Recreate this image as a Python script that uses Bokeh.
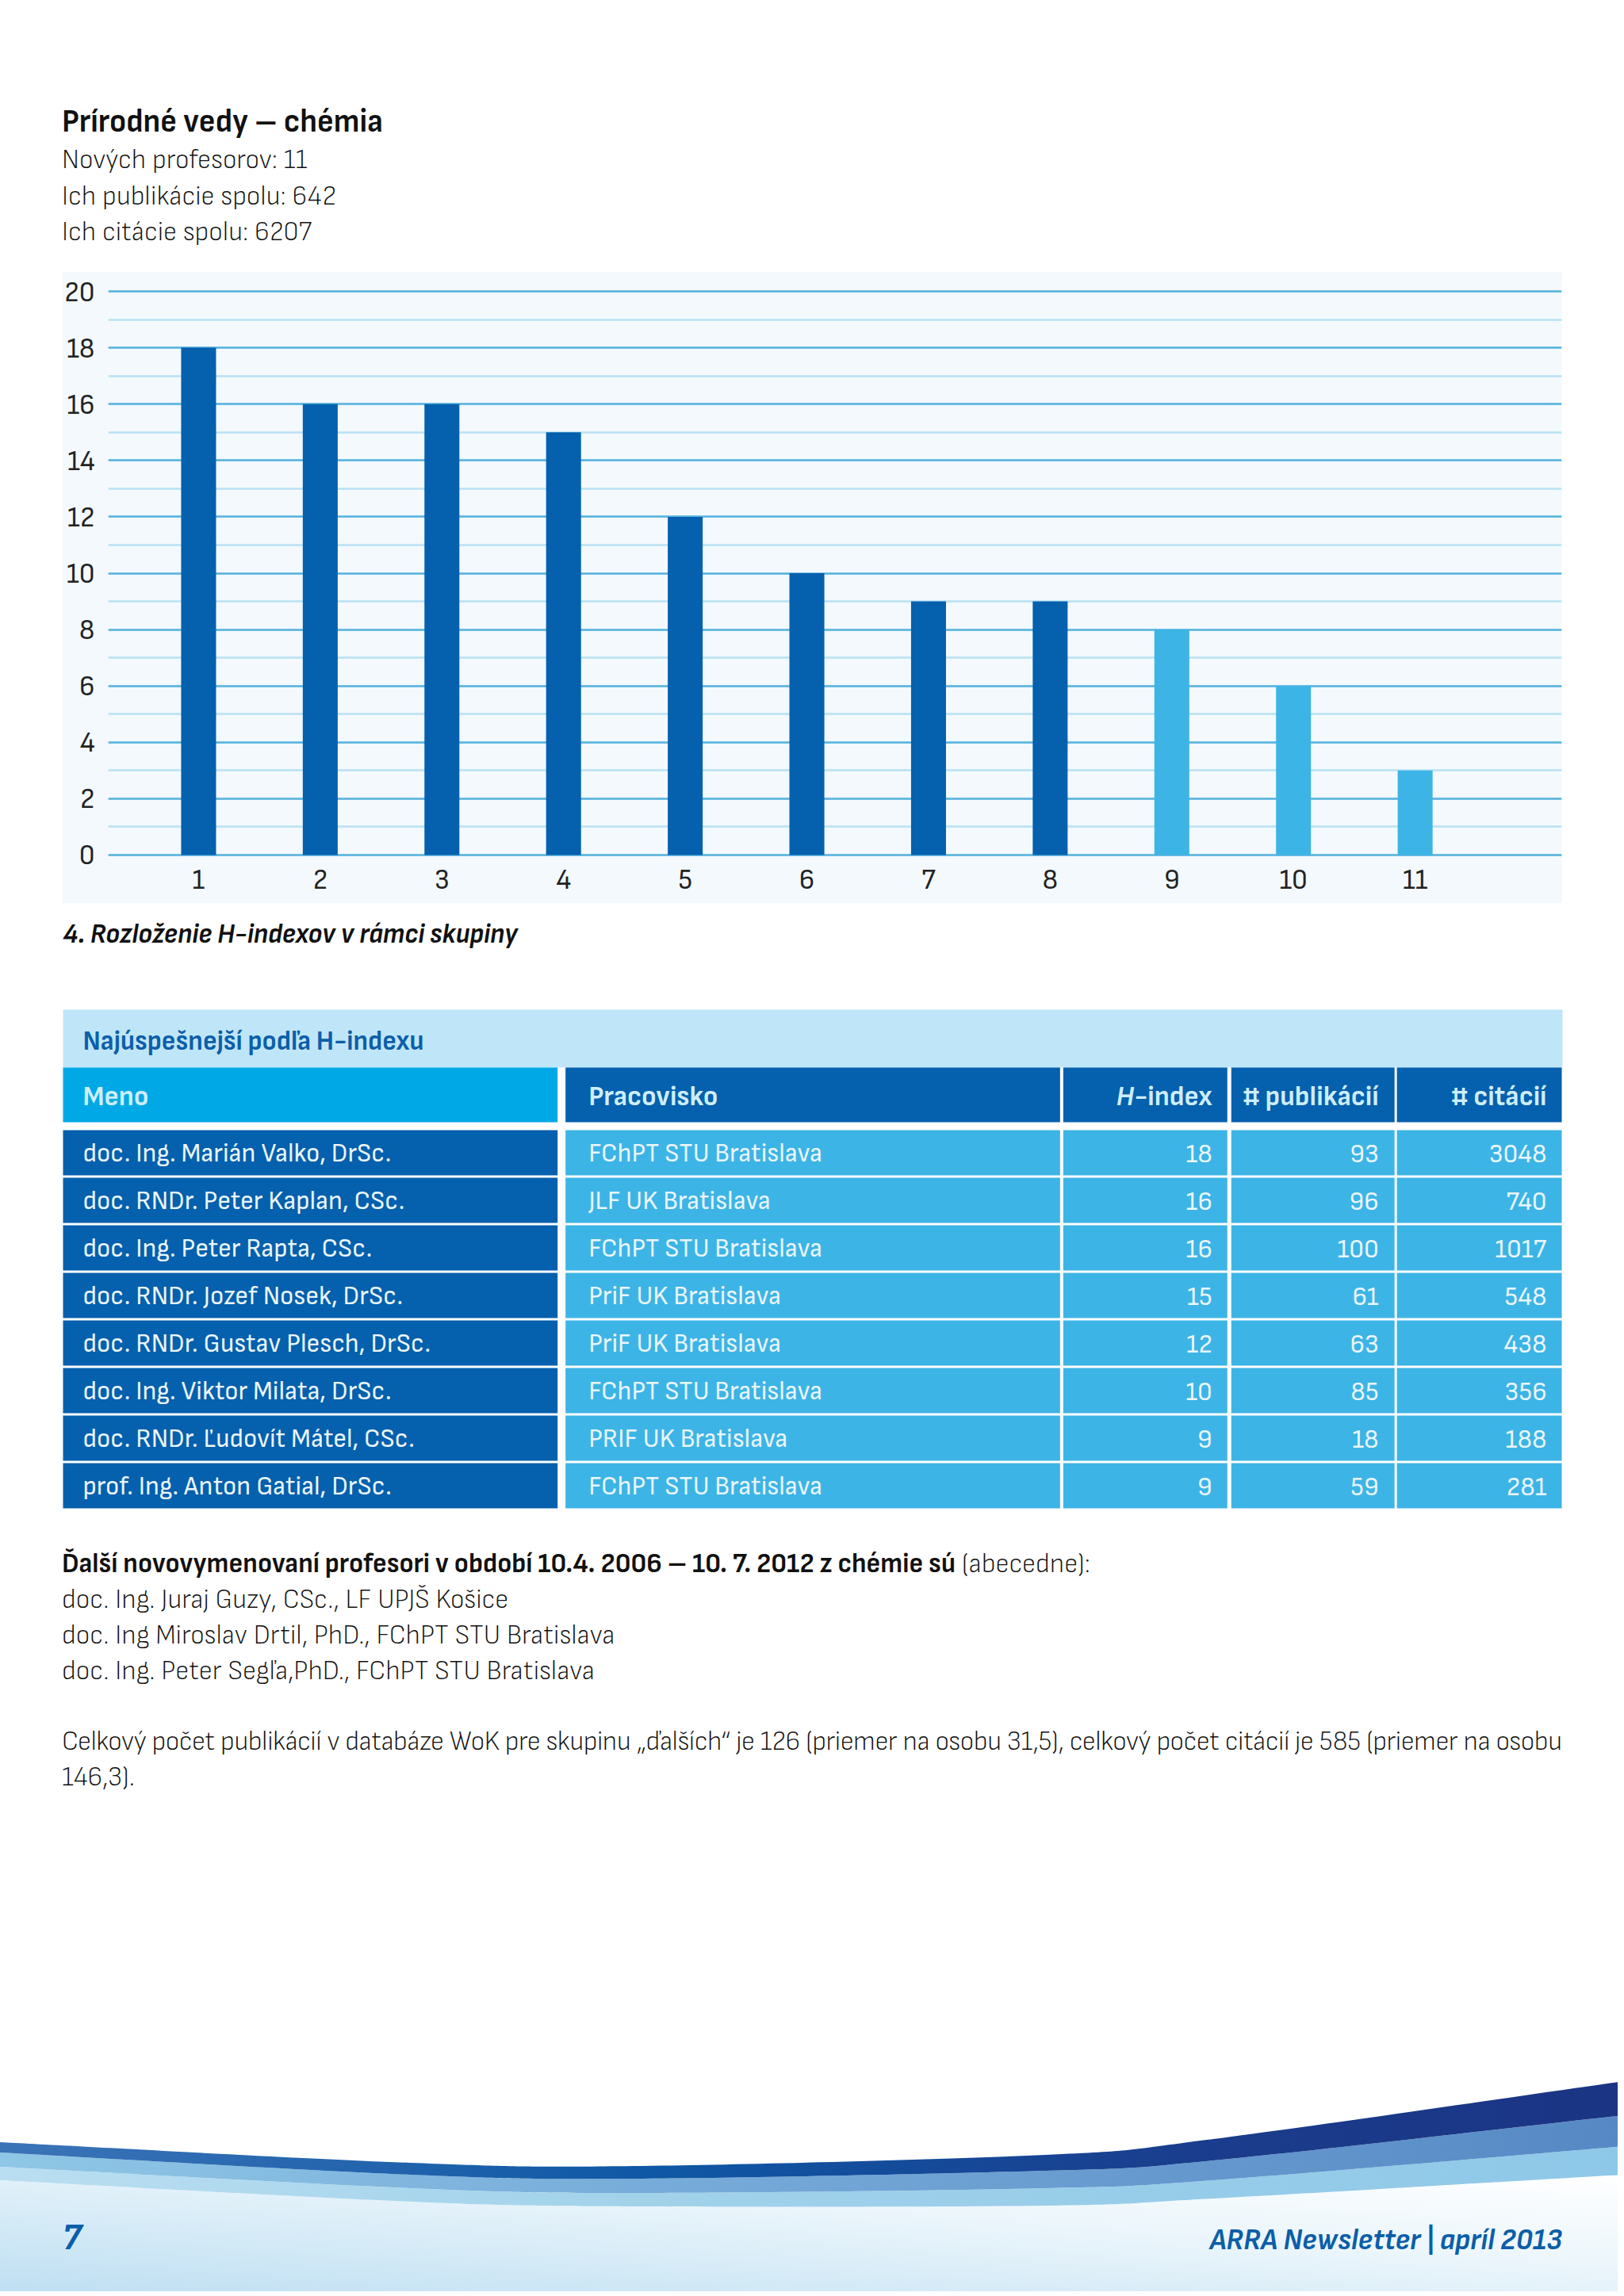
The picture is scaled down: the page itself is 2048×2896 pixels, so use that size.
from html import escape
from bokeh.plotting import figure
from bokeh.models import Range1d, SingleIntervalTicker, FixedTicker, Div
from bokeh.layouts import column
from bokeh.core.properties import value
from bokeh.embed import file_html
from bokeh.resources import INLINE

# ---------------- data ----------------
page_title = "Prírodné vedy – chémia"
summary_lines = ["Nových profesorov: 11", "Ich publikácie spolu: 642", "Ich citácie spolu: 6207"]

ranks = [1, 2, 3, 4, 5, 6, 7, 8, 9, 10, 11]
hindex = [18, 16, 16, 15, 12, 10, 9, 9, 8, 6, 3]
caption = "4. Rozloženie H-indexov v rámci skupiny"

table_title = "Najúspešnejší podľa H-indexu"
col_headers = ["Meno", "Pracovisko", "H-index", "# publikácií", "# citácií"]
names = ["doc. Ing. Marián Valko, DrSc.", "doc. RNDr. Peter Kaplan, CSc.", "doc. Ing. Peter Rapta, CSc.",
         "doc. RNDr. Jozef Nosek, DrSc.", "doc. RNDr. Gustav Plesch, DrSc.", "doc. Ing. Viktor Milata, DrSc.",
         "doc. RNDr. Ľudovít Mátel, CSc.", "prof. Ing. Anton Gatial, DrSc."]
workplaces = ["FChPT STU Bratislava", "JLF UK Bratislava", "FChPT STU Bratislava", "PriF UK Bratislava",
              "PriF UK Bratislava", "FChPT STU Bratislava", "PRIF UK Bratislava", "FChPT STU Bratislava"]
t_hindex = [18, 16, 16, 15, 12, 10, 9, 9]
t_pubs = [93, 96, 100, 61, 63, 85, 18, 59]
t_cits = [3048, 740, 1017, 548, 438, 356, 188, 281]

others_bold = "Ďalší novovymenovaní profesori v období 10.4. 2006 – 10. 7. 2012 z chémie sú"
others_regular = " (abecedne):"
others = ["doc. Ing. Juraj Guzy, CSc., LF UPJŠ Košice",
          "doc. Ing Miroslav Drtil, PhD., FChPT STU Bratislava",
          "doc. Ing. Peter Segľa,PhD., FChPT STU Bratislava"]
summary_par = ["Celkový počet publikácií v databáze WoK pre skupinu „ďalších“ je 126 (priemer na osobu 31,5), celkový počet citácií je 585 (priemer na osobu",
               "146,3)."]
footer_page = "7"
footer_brand = "ARRA Newsletter | apríl 2013"

# ---------------- styles ----------------
FONT = "Sofia Sans Semi Condensed"
FONT_CSS = "'Sofia Sans Semi Condensed', 'Sofia Sans Condensed', 'Archivo Narrow', sans-serif"
DARK = "#0560ad"
LIGHT = "#3db4e6"
CYAN = "#00a9e5"
BAND = "#bfe6f8"
PANEL = "#f3f9fd"
MAJOR = "#5ab4dd"
MINOR = "#b9e1f3"
INK = "#111111"
NAVY_TXT = "#0b5ea8"
W = 2040
BL = 10  # shift that puts Bokeh's alphabetic baseline where the glyph baseline should be
LW = 350  # light body weight


def st(size, weight=LW, style="normal", color=INK):
    return (f"font-family:{FONT_CSS};font-size:{size}px;font-weight:{weight};"
            f"font-style:{style};fill:{color}")


def svg_text(x, y, s, size, weight=LW, style="normal", color=INK, anchor="start", extra=""):
    return (f'<text x="{x}" y="{y}" text-anchor="{anchor}" style="{st(size, weight, style, color)}" {extra}>'
            f'{escape(s, quote=False)}</text>')


# ---------------- header (page y 0..342) ----------------
HDR_H = 342
hdr_parts = [svg_text(78, 166, page_title, 41, weight=700)]
for i, s in enumerate(summary_lines):
    hdr_parts.append(svg_text(78, 212 + 45.5 * i, s, 35))
hdr_svg = (f'<svg xmlns="http://www.w3.org/2000/svg" width="{W}" height="{HDR_H}" viewBox="0 0 {W} {HDR_H}" '
           f'style="display:block">' + "".join(hdr_parts) + "</svg>")
hdr = Div(text=hdr_svg, width=W, height=HDR_H, margin=(0, 0, 0, 0))

# ---------------- bar chart (page y 342..1139, x 78..1970) ----------------
n_top = len(names)
bar_colors = [DARK if i < n_top else LIGHT for i in range(len(ranks))]
p = figure(width=1892, height=797, x_range=Range1d(0.2573, 12.205), y_range=Range1d(-0.197, 20.338),
           output_backend="svg", toolbar_location=None, margin=(0, 0, 0, 78),
           min_border_left=57, min_border_right=1, min_border_top=13, min_border_bottom=54,
           background_fill_color=PANEL, border_fill_color=PANEL, outline_line_color=None)
p.vbar(x=ranks, top=hindex, width=0.287, fill_color=bar_colors, line_color=None)
p.xgrid.visible = False
p.yaxis.ticker = SingleIntervalTicker(interval=2, num_minor_ticks=2)
p.xaxis.ticker = FixedTicker(ticks=ranks)
p.ygrid.grid_line_color = MAJOR
p.ygrid.grid_line_width = 2.5
p.ygrid.minor_grid_line_color = MINOR
p.ygrid.minor_grid_line_width = 2.5
for ax in (p.xaxis[0], p.yaxis[0]):
    ax.axis_line_color = None
    ax.major_tick_line_color = None
    ax.minor_tick_line_color = None
    ax.major_label_text_font = FONT
    ax.major_label_text_font_size = "36px"
    ax.major_label_text_color = "#222222"
p.yaxis.major_label_standoff = 11
p.xaxis.major_label_standoff = 5

# ---------------- caption + table (page y 1139..1910) ----------------
TOP, BOT = 1139, 1910
LB, RB = 57, 1
t = figure(width=W, height=BOT - TOP, x_range=Range1d(LB, W - RB), y_range=Range1d(BOT, TOP),
           x_axis_type=None, y_axis_type=None, output_backend="svg", toolbar_location=None,
           min_border=0, min_border_left=LB, min_border_right=RB, outline_line_color=None,
           background_fill_color="white", border_fill_color="white", margin=(0, 0, 0, 0))

t.text(x=[78], y=[1188 - BL], text=[caption], text_font=value(FONT), text_font_size="35px",
       text_font_style="bold italic", text_color="#111111", text_baseline="alphabetic")

# title band
t.quad(left=[78], right=[1970], top=[1273], bottom=[1346], fill_color=BAND, line_color=None)
t.text(x=[103], y=[1323 - BL], text=[table_title], text_font=value(FONT), text_font_size="35px",
       text_font_style="bold", text_color="#0d5ea9", text_baseline="alphabetic")

COL_L = [78, 712, 1340, 1552, 1761]
COL_R = [702, 1336, 1547, 1758, 1969]
TXT_X = [103, 741, 1528, 1738, 1950]
ALIGN = ["left", "left", "right", "right", "right"]

# header row
t.quad(left=COL_L, right=COL_R, top=[1346] * 5, bottom=[1415] * 5,
       fill_color=[CYAN] + [DARK] * 4, line_color=None)
HDR_TXT = "#cdeefb"
HS = 36
HY = 1393 - BL
hx, hy, ht, ha = [], [], [], []
for j, h in enumerate(col_headers):
    if j == 2:
        continue
    hx.append(TXT_X[j]); hy.append(HY); ht.append(h); ha.append(ALIGN[j])
t.text(x=hx, y=hy, text=ht, text_align=ha, text_font=value(FONT), text_font_size=f"{HS}px",
       text_font_style="bold", text_color=HDR_TXT, text_baseline="alphabetic")
h_first, h_rest = col_headers[2][0], col_headers[2][1:]
t.text(x=[TXT_X[2]], y=[HY], text=[h_rest], text_align="right", text_font=value(FONT),
       text_font_size=f"{HS}px", text_font_style="bold", text_color=HDR_TXT, text_baseline="alphabetic")
t.text(x=[TXT_X[2] - 2.75 * HS], y=[HY], text=[h_first], text_align="right", text_font=value(FONT),
       text_font_size=f"{HS}px", text_font_style="bold italic", text_color=HDR_TXT, text_baseline="alphabetic")

# data rows
ROW0, PITCH, RH = 1425, 60, 57
ql, qr, qt, qb, qc = [], [], [], [], []
tx, ty, tt, ta = [], [], [], []
for i in range(n_top):
    row_vals = [names[i], workplaces[i], str(t_hindex[i]), str(t_pubs[i]), str(t_cits[i])]
    top = ROW0 + PITCH * i
    for j in range(5):
        ql.append(COL_L[j]); qr.append(COL_R[j]); qt.append(top); qb.append(top + RH)
        qc.append(DARK if j == 0 else LIGHT)
        tx.append(TXT_X[j]); ty.append(top + 39 - BL); tt.append(row_vals[j]); ta.append(ALIGN[j])
t.quad(left=ql, right=qr, top=qt, bottom=qb, fill_color=qc, line_color=None)
t.text(x=tx, y=ty, text=tt, text_align=ta, text_font=value(FONT), text_font_size="34px",
       text_color="#eaf6fc", text_baseline="alphabetic")


# ---------------- paragraph + footer (page y 1910..2890) ----------------
def smooth(pts):
    d = f"M{pts[0][0]},{pts[0][1]}"
    for i in range(len(pts) - 1):
        p0 = pts[i - 1] if i > 0 else pts[i]
        p1, p2 = pts[i], pts[i + 1]
        p3 = pts[i + 2] if i + 2 < len(pts) else p2
        c1 = (p1[0] + (p2[0] - p0[0]) / 6, p1[1] + (p2[1] - p0[1]) / 6)
        c2 = (p2[0] - (p3[0] - p1[0]) / 6, p2[1] - (p3[1] - p1[1]) / 6)
        d += f" C{c1[0]:.1f},{c1[1]:.1f} {c2[0]:.1f},{c2[1]:.1f} {p2[0]},{p2[1]}"
    return d


def band(top_pts, bot_pts):
    back = smooth(bot_pts[::-1])
    return smooth(top_pts) + " L" + back[1:] + " Z"


xs = [0, 518, 800, 1318, 1530, 2048]
e0 = list(zip(xs, [2702, 2728, 2732, 2718, 2698, 2625]))
e1 = list(zip(xs, [2715, 2743, 2748, 2738, 2725, 2668]))
e2 = list(zip(xs, [2733, 2760, 2766, 2760, 2750, 2707]))
e3 = list(zip(xs, [2750, 2777, 2783, 2782, 2773, 2743]))
bg_path = smooth(e3) + " L2048,2900 L0,2900 Z"

defs = """<defs>
<linearGradient id="gbg" x1="0" y1="1" x2="1" y2="0">
<stop offset="0" stop-color="#bcdef2"/><stop offset="0.6" stop-color="#eaf5fb"/><stop offset="1" stop-color="#ffffff"/></linearGradient>
<linearGradient id="g0" x1="0" y1="0" x2="1" y2="0">
<stop offset="0" stop-color="#3c74b8"/><stop offset="0.4" stop-color="#0f58a5"/><stop offset="0.75" stop-color="#1b3c8c"/><stop offset="1" stop-color="#1b3484"/></linearGradient>
<linearGradient id="g1" x1="0" y1="0" x2="1" y2="0">
<stop offset="0" stop-color="#8fc7e6"/><stop offset="0.4" stop-color="#77acda"/><stop offset="1" stop-color="#5689c4"/></linearGradient>
<linearGradient id="g2" x1="0" y1="0" x2="1" y2="0">
<stop offset="0" stop-color="#badef1"/><stop offset="0.4" stop-color="#a1d2ea"/><stop offset="1" stop-color="#8ec8e8"/></linearGradient>
</defs>"""

PS = 35
bot_parts = [defs]
bot_parts.append(f'<text x="78" y="1983" style="{st(PS)}">'
                 f'<tspan style="font-weight:700">{escape(others_bold, quote=False)}</tspan>'
                 f'<tspan style="font-weight:{LW}">{escape(others_regular, quote=False)}</tspan></text>')
for i, s in enumerate(others):
    bot_parts.append(svg_text(78, 2028 + 45 * i, s, PS))
bot_parts.append(svg_text(78, 2207, summary_par[0], PS, extra='textLength="1892" lengthAdjust="spacing"'))
bot_parts.append(svg_text(78, 2252, summary_par[1], PS))
bot_parts.append(f'<path d="{bg_path}" fill="url(#gbg)"/>')
bot_parts.append(f'<path d="{band(e2, e3)}" fill="url(#g2)"/>')
bot_parts.append(f'<path d="{band(e1, e2)}" fill="url(#g1)"/>')
bot_parts.append(f'<path d="{band(e0, e1)}" fill="url(#g0)"/>')
bot_parts.append(svg_text(78, 2837, footer_page, 48, weight=700, style="italic", color=NAVY_TXT))
bot_parts.append(svg_text(1970, 2837, footer_brand, 38, weight=700, style="italic", color=NAVY_TXT, anchor="end"))
BOTH = 2890 - BOT
bot_svg = (f'<svg xmlns="http://www.w3.org/2000/svg" width="{W}" height="{BOTH}" viewBox="0 {BOT} {W} {BOTH}" '
           f'style="display:block">' + "".join(bot_parts) + "</svg>")
bottom = Div(text=bot_svg, width=W, height=BOTH, margin=(0, 0, 0, 0))

layout = column(hdr, p, t, bottom, spacing=0, margin=(0, 0, 0, 0))
open("out.html", "w").write(file_html(layout, INLINE))
